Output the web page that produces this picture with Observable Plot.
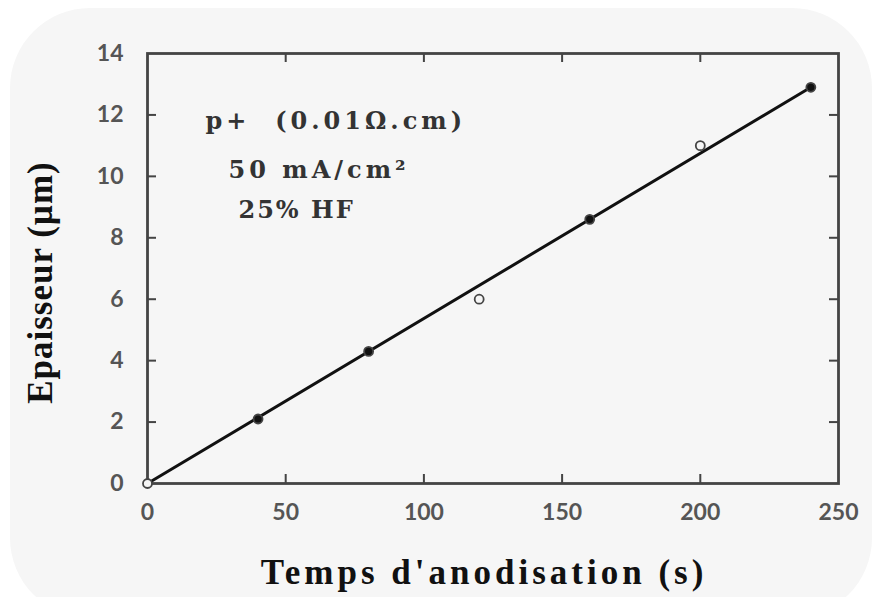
<!DOCTYPE html>
<html>
<head>
<meta charset="utf-8">
<script src="https://cdn.jsdelivr.net/npm/d3@7"></script>
<script src="https://cdn.jsdelivr.net/npm/@observablehq/plot@0.6"></script>
<style>
  html, body { margin: 0; padding: 0; background: #ffffff; width: 874px; height: 597px; overflow: hidden; }
  #card { position: absolute; left: 10px; top: 8px; width: 862px; height: 610px; background: #f6f6f6; border-radius: 80px; }
  #chart { position: absolute; left: 0; top: 0; }
</style>
</head>
<body>
<div id="card"></div>
<div id="chart"></div>
<script>
// Data
const timeS = [0, 40, 80, 120, 160, 200, 240];
const thickness = [0, 2.1, 4.3, 6.0, 8.6, 11.0, 12.9];
const hollow = [true, false, false, true, false, true, false];
const fitX = [0, 240];
const fitY = [0, 12.9];
const xTicks = [0, 50, 100, 150, 200, 250];
const yTicks = [0, 2, 4, 6, 8, 10, 12, 14];
const notes = ["p+  (0.01Ω.cm)", "50 mA/cm²", "25% HF"];
const noteX = [21, 29.3, 32.9];
const noteY = [11.8, 10.2, 8.9];
const noteSpacing = [4, 4, 2];

const points = timeS.map((t, i) => ({t, e: thickness[i], hollow: hollow[i]}));
const fit = fitX.map((t, i) => ({t, e: fitY[i]}));
const noteData = notes.map((s, i) => ({s, x: noteX[i], y: noteY[i]}));

const W = 874, H = 597;
const mL = 147, mR = 36, mT = 53, mB = 114;
const fw = W - mL - mR, fh = H - mT - mB;
const tickLen = 9;
const inner = x => x > 0 && x < 250;
const innerY = y => y > 0 && y < 14;

const chart = Plot.plot({
  width: W, height: H,
  marginLeft: mL, marginRight: mR, marginTop: mT, marginBottom: mB,
  style: {background: "transparent", overflow: "visible"},
  x: {domain: [0, 250], axis: null},
  y: {domain: [0, 14], axis: null},
  marks: [
    Plot.frame({stroke: "#444", strokeWidth: 2.8}),
    Plot.tickX(xTicks.filter(inner), {x: d => d, stroke: "#444", strokeWidth: 2, insetTop: fh - tickLen}),
    Plot.tickX(xTicks.filter(inner), {x: d => d, stroke: "#444", strokeWidth: 2, insetBottom: fh - tickLen}),
    Plot.tickY(yTicks.filter(innerY), {y: d => d, stroke: "#444", strokeWidth: 2, insetRight: fw - tickLen}),
    Plot.tickY(yTicks.filter(innerY), {y: d => d, stroke: "#444", strokeWidth: 2, insetLeft: fw - tickLen}),
    Plot.text(xTicks, {x: d => d, frameAnchor: "bottom", dy: 36, text: d => String(d), fontSize: 23, fontWeight: 700, fontFamily: "Lato", fill: "#555"}),
    Plot.text(yTicks, {y: d => d, frameAnchor: "left", dx: -24, textAnchor: "end", text: d => String(d), fontSize: 23, fontWeight: 700, fontFamily: "Lato", fill: "#555"}),
    Plot.line(fit, {x: "t", y: "e", stroke: "#111", strokeWidth: 3}),
    Plot.dot(points, {x: "t", y: "e", r: 4.5, stroke: "#444", strokeWidth: 1.8, fill: d => d.hollow ? "#f6f6f6" : "#111"}),
    Plot.text(noteData, {x: "x", y: "y", text: "s", textAnchor: "start", fontSize: 24, fontWeight: "bold", fontFamily: "DejaVu Serif", fill: "#333"}),
    Plot.text(["Temps d'anodisation (s)"], {frameAnchor: "bottom", textAnchor: "middle", dy: 100, dx: -9, text: d => d, fontSize: 35, fontWeight: "bold", fontFamily: "Liberation Serif", fill: "#111"}),
    Plot.text(["Epaisseur (µm)"], {frameAnchor: "left", textAnchor: "middle", dx: -107, dy: 14, rotate: -90, text: d => d, fontSize: 35, fontWeight: "bold", fontFamily: "Liberation Serif", fill: "#111"})
  ]
});
document.getElementById("chart").appendChild(chart);
// widen the bold serif titles and annotations to the reference's spacing
d3.select(chart).selectAll("text").each(function() {
  const t = this.textContent;
  if (t === "Temps d'anodisation (s)") this.style.letterSpacing = "4px";
  if (t === "Epaisseur (µm)") this.style.letterSpacing = "1px";
  const k = notes.indexOf(t);
  if (k >= 0) this.style.letterSpacing = noteSpacing[k] + "px";
});
</script>
</body>
</html>
